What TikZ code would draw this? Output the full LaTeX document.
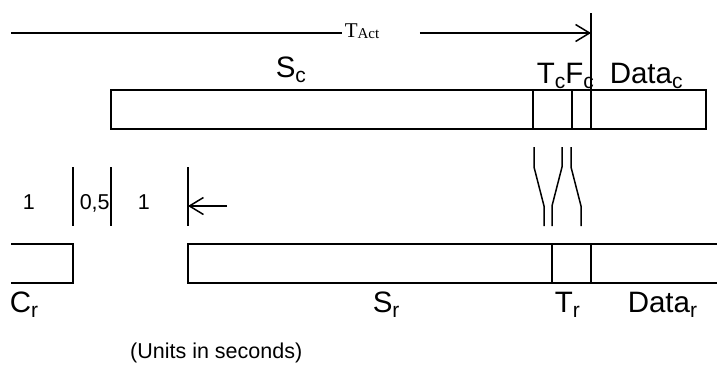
\documentclass[tikz,border=0pt]{standalone}
\usepackage{fontspec}
\setmainfont{Liberation Sans}
\newfontfamily\timesfont{Liberation Serif}
\usetikzlibrary{arrows.meta}

\newcommand{\lowsub}[1]{\raisebox{-5pt}{\fontsize{21}{21}\selectfont #1}}

\begin{document}
\begin{tikzpicture}[x=1pt, y=-1pt, line width=1.5pt,
  big/.style={font=\fontsize{29.5}{29.5}\selectfont, inner sep=0pt, anchor=base west},
  num/.style={font=\fontsize{21.5}{21.5}\selectfont, inner sep=0pt, anchor=base west},
  barb/.style={-{Straight Barb[length=14pt, width=17pt, line width=1.5pt]}}]
  \useasboundingbox (0,0) rectangle (717,365);

  % channel frame
  \draw (111,90) rectangle (706,129);
  \foreach \x in {533,572} \draw (\x,90) -- (\x,129);
  \coordinate (acttick) at (591,13);
  \draw (acttick) -- (591,129);

  % activation time
  \coordinate (actL) at (11,33);
  \coordinate (actR) at (acttick |- actL);
  \node[inner sep=0pt, anchor=base west, font=\timesfont\fontsize{21}{21}\selectfont] (tact) at (344,37) {T\raisebox{-1.5pt}{\fontsize{15}{15}\selectfont Act}};
  \draw (actL) -- ([xshift=-2pt]tact.west |- actL);
  \draw[barb] ([xshift=40pt]tact.east |- actL) -- (actR);

  \node[big] (sc) at (275,77) {S\lowsub{c}};
  \node[big] (tcfc) at (536,83) {T\lowsub{c}F\lowsub{c}};
  \node[big] (datac) at (609,83) {Data\lowsub{c}};

  % mapping of fields
  \foreach \xa/\xb in {534/544, 562/552, 571/581}
    \draw (\xa,147) -- (\xa,167) -- (\xb,206) -- (\xb,226);

  % guard times
  \foreach \x/\name in {73/ga, 111/gb, 188/gc}
    \draw (\x,167) coordinate (\name) -- (\x,226);
  \coordinate (arrstart) at (227,206);
  \draw[barb] (arrstart) -- (gc |- arrstart);
  \node[num] (one) at (22,209) {1};
  \node[num] (half) at (79,209) {0,5};
  \node[num] (two) at (137,209) {1};

  % receiver frame
  \draw (11,244) -- (73,244) -- (73,283) -- (11,283);
  \draw (717,244) -- (188,244) -- (188,283) -- (717,283);
  \foreach \x in {552,591} \draw (\x,244) -- (\x,283);

  \node[big] (cr) at (9,312) {C\lowsub{r}};
  \node[big] (sr) at (372,312) {S\lowsub{r}};
  \node[big] (tr) at (554,312) {T\lowsub{r}};
  \node[big] (datar) at (627,312) {Data\lowsub{r}};

  \node[font=\fontsize{21.5}{21.5}\selectfont, inner sep=0pt, anchor=base east] (units) at (303,358) {(Units in seconds)};
\end{tikzpicture}
\end{document}
